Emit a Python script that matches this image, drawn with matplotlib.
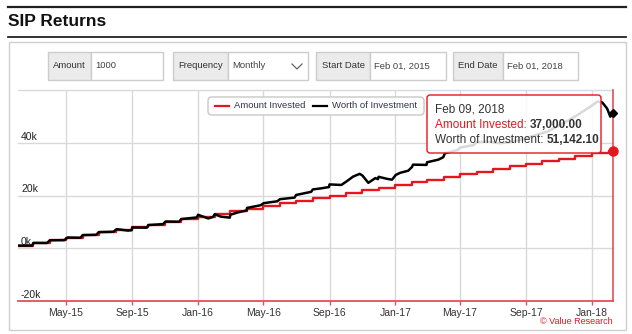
import matplotlib
matplotlib.use('Agg')
import matplotlib.pyplot as plt
from matplotlib.patches import Rectangle, FancyBboxPatch
import pandas as pd

# --- Fonts ---
plt.rcParams['font.family'] = ['Liberation Sans', 'DejaVu Sans']

W, H = 632, 334

# --- Data ---
invest_dates = pd.date_range('2015-02-01', periods=37, freq='MS')
amount_invested = [1000, 2000, 3000, 4000, 5000, 6000, 7000, 8000, 9000, 10000,
                   11000, 12000, 13000, 14000, 15000, 16000, 17000, 18000, 19000,
                   20000, 21000, 22000, 23000, 24000, 25000, 26000, 27000, 28000,
                   29000, 30000, 31000, 32000, 33000, 34000, 35000, 36000, 37000]

worth_dates = [
    '2015-02-01', '2015-02-27', '2015-03-02', '2015-03-27', '2015-04-01', '2015-04-28',
    '2015-05-04', '2015-05-28', '2015-06-01', '2015-06-26', '2015-07-01', '2015-07-28',
    '2015-08-03', '2015-08-24', '2015-08-31', '2015-09-01', '2015-09-28', '2015-10-01',
    '2015-10-28', '2015-11-02', '2015-11-27', '2015-12-01', '2015-12-30', '2016-01-01',
    '2016-01-20', '2016-01-29', '2016-02-01', '2016-02-12', '2016-02-29', '2016-03-01',
    '2016-03-15', '2016-03-31', '2016-04-01', '2016-04-26', '2016-05-02', '2016-05-27',
    '2016-06-01', '2016-06-28', '2016-07-01', '2016-07-29', '2016-08-01', '2016-08-16',
    '2016-08-31', '2016-09-01', '2016-09-23', '2016-10-03', '2016-10-15', '2016-10-27',
    '2016-11-01', '2016-11-12', '2016-11-25', '2016-11-30', '2016-12-01', '2016-12-17',
    '2016-12-26', '2017-01-02', '2017-01-10', '2017-01-25', '2017-02-01', '2017-02-03',
    '2017-02-28', '2017-03-01', '2017-03-22', '2017-03-31', '2017-04-03', '2017-04-26',
    '2017-05-02', '2017-05-26', '2017-06-01', '2017-06-21', '2017-07-15', '2017-08-08',
    '2017-09-09', '2017-10-10', '2017-11-09', '2017-12-05', '2017-12-29', '2018-01-11',
    '2018-01-20', '2018-01-29', '2018-02-04', '2018-02-09',
]
worth_values = [
    1000, 1030, 2030, 2000, 3000, 3080,
    4080, 3980, 4980, 5100, 6100, 6250,
    7250, 6700, 6850, 7850, 7800, 8800,
    9150, 10150, 10050, 11050, 11700, 12700,
    11300, 11900, 12900, 12000, 11600, 12700,
    13600, 14300, 15300, 16300, 17100, 17800,
    18600, 19200, 20200, 21400, 22300, 22700,
    23200, 24200, 24000, 25400, 27200, 28200,
    27600, 24800, 26600, 26200, 27100, 26300,
    26000, 27800, 28600, 29400, 30800, 31700,
    31600, 32600, 33600, 34500, 36000, 37200,
    38200, 39100, 40200, 40400, 39800, 40400,
    42300, 44200, 47400, 50500, 53700, 55600,
    55300, 53000, 49900, 51142.10,
]

end_date = pd.Timestamp('2018-02-09')
tick_dates = pd.date_range('2015-05-01', '2018-01-01', freq='4MS')
tick_labels = [d.strftime('%b-%y') for d in tick_dates]
y_ticks = [-20000, 0, 20000, 40000]
y_labels = ['-20k', '0k', '20k', '40k']

RED = '#e4161f'
AXIS_RED = '#e3505a'
GRID = '#d9d9d9'


def px_box(l, t, r, b):
    return [l / W, 1 - b / H, (r - l) / W, (b - t) / H]


fig = plt.figure(figsize=(W / 100, H / 100), dpi=100)
fig.patch.set_facecolor('white')

# --- Main chart ---
ax = fig.add_axes(px_box(18, 90, 613, 301))
ax.set_xlim(pd.Timestamp('2015-02-01'), end_date)
ax.set_ylim(-20000, 60000)
for s in ax.spines.values():
    s.set_visible(False)
ax.set_yticks([])
ax.set_xticks(tick_dates)
ax.set_xticklabels(tick_labels, fontsize=7.5, color='#333333')
ax.tick_params(axis='x', length=3, width=1, color=AXIS_RED, pad=2)

for d in tick_dates:
    ax.axvline(d, color=GRID, lw=1, zorder=0)
for v in [0, 20000, 40000, 60000]:
    ax.axhline(v, color=GRID, lw=1, zorder=0, clip_on=False)
ax.axhline(-20000, color=AXIS_RED, lw=1.3, zorder=1, clip_on=False)
ax.axvline(end_date, color=AXIS_RED, lw=1.2, zorder=1, clip_on=False)

for v, lbl in zip(y_ticks, y_labels):
    ax.annotate(lbl, xy=(0, v), xycoords=('axes fraction', 'data'),
                xytext=(3, 1), textcoords='offset pixels',
                fontsize=7.5, color='#222222', ha='left', va='bottom')

# Amount invested (step line)
step_x = list(invest_dates) + [end_date]
step_y = amount_invested + [amount_invested[-1]]
ax.step(step_x, step_y, where='post', color=RED, lw=1.7, zorder=3)

# Worth of investment
ax.plot(pd.to_datetime(worth_dates), worth_values, color='black', lw=1.8, zorder=4)

ax.plot(end_date, amount_invested[-1], 'o', color=RED, ms=6.5, clip_on=False, zorder=6)
ax.plot(end_date, worth_values[-1], 'D', color='black', ms=4.5, clip_on=False, zorder=6)

# --- Overlay for page furniture ---
ov = fig.add_axes([0, 0, 1, 1])
ov.set_xlim(0, W)
ov.set_ylim(H, 0)
ov.axis('off')
ov.patch.set_alpha(0)

ov.plot([8, 626], [7, 7], color='#222222', lw=1.6)
ov.text(8, 21, 'SIP Returns', fontsize=12.5, fontweight='bold', va='center', color='#111111')
ov.plot([8, 626], [36.5, 36.5], color='#222222', lw=1.3)
ov.add_patch(Rectangle((9, 42), 617, 288, fill=False, ec='#cfcfcf', lw=1))

# input fields
fields = [('Amount', '1000', 48, 91, 163),
          ('Frequency', 'Monthly', 173, 228, 308),
          ('Start Date', 'Feb 01, 2015', 316, 370, 446),
          ('End Date', 'Feb 01, 2018', 453, 503, 578)]
for lbl, val, x0, xs, x1 in fields:
    ov.add_patch(Rectangle((x0, 52), xs - x0, 28, fc='#ebebeb', ec='#cccccc', lw=1))
    ov.add_patch(Rectangle((xs, 52), x1 - xs, 28, fc='white', ec='#cccccc', lw=1))
    ov.text((x0 + xs) / 2, 66, lbl, fontsize=6.8, color='#333333', ha='center', va='center')
    ov.text(xs + 4, 66, val, fontsize=6.8, color='#444444', ha='left', va='center')
ov.plot([292, 297, 302], [64, 69, 64], color='#666666', lw=0.9)

# legend
ov.add_patch(FancyBboxPatch((208, 97), 216, 18, boxstyle='round,pad=0,rounding_size=4',
                            fc='white', ec='#c8c8c8', lw=1, zorder=5))
ov.plot([215, 229], [106, 106], color=RED, lw=1.6, zorder=6)
ov.text(234, 106, 'Amount Invested', fontsize=6.8, color='#33334d', va='center', zorder=6)
ov.plot([313, 327], [106, 106], color='black', lw=1.6, zorder=6)
ov.text(332, 106, 'Worth of Investment', fontsize=6.8, color='#33334d', va='center', zorder=6)

# tooltip
ov.add_patch(FancyBboxPatch((427, 95), 174, 58, boxstyle='round,pad=0,rounding_size=3',
                            fc=(1, 1, 1, 0.85), ec=RED, lw=1, zorder=5))
ov.text(435, 110, 'Feb 09, 2018', fontsize=8.5, color='#333333', va='center', zorder=6)
t1 = ov.text(435, 125, 'Amount Invested: ', fontsize=8.5, color=RED, va='center', zorder=6)
ov.annotate('37,000.00', xy=(1, 0), xycoords=t1, fontsize=8.5, fontweight='bold',
            color='#333333', va='bottom', ha='left', zorder=6)
t2 = ov.text(435, 140, 'Worth of Investment: ', fontsize=8.5, color='#333333', va='center', zorder=6)
ov.annotate('51,142.10', xy=(1, 0), xycoords=t2, fontsize=8.5, fontweight='bold',
            color='#333333', va='bottom', ha='left', zorder=6)

ov.text(613, 322, '\u00a9 Value Research', fontsize=6.5, color=RED, ha='right', va='center')

fig.savefig('out.png', dpi=100)
